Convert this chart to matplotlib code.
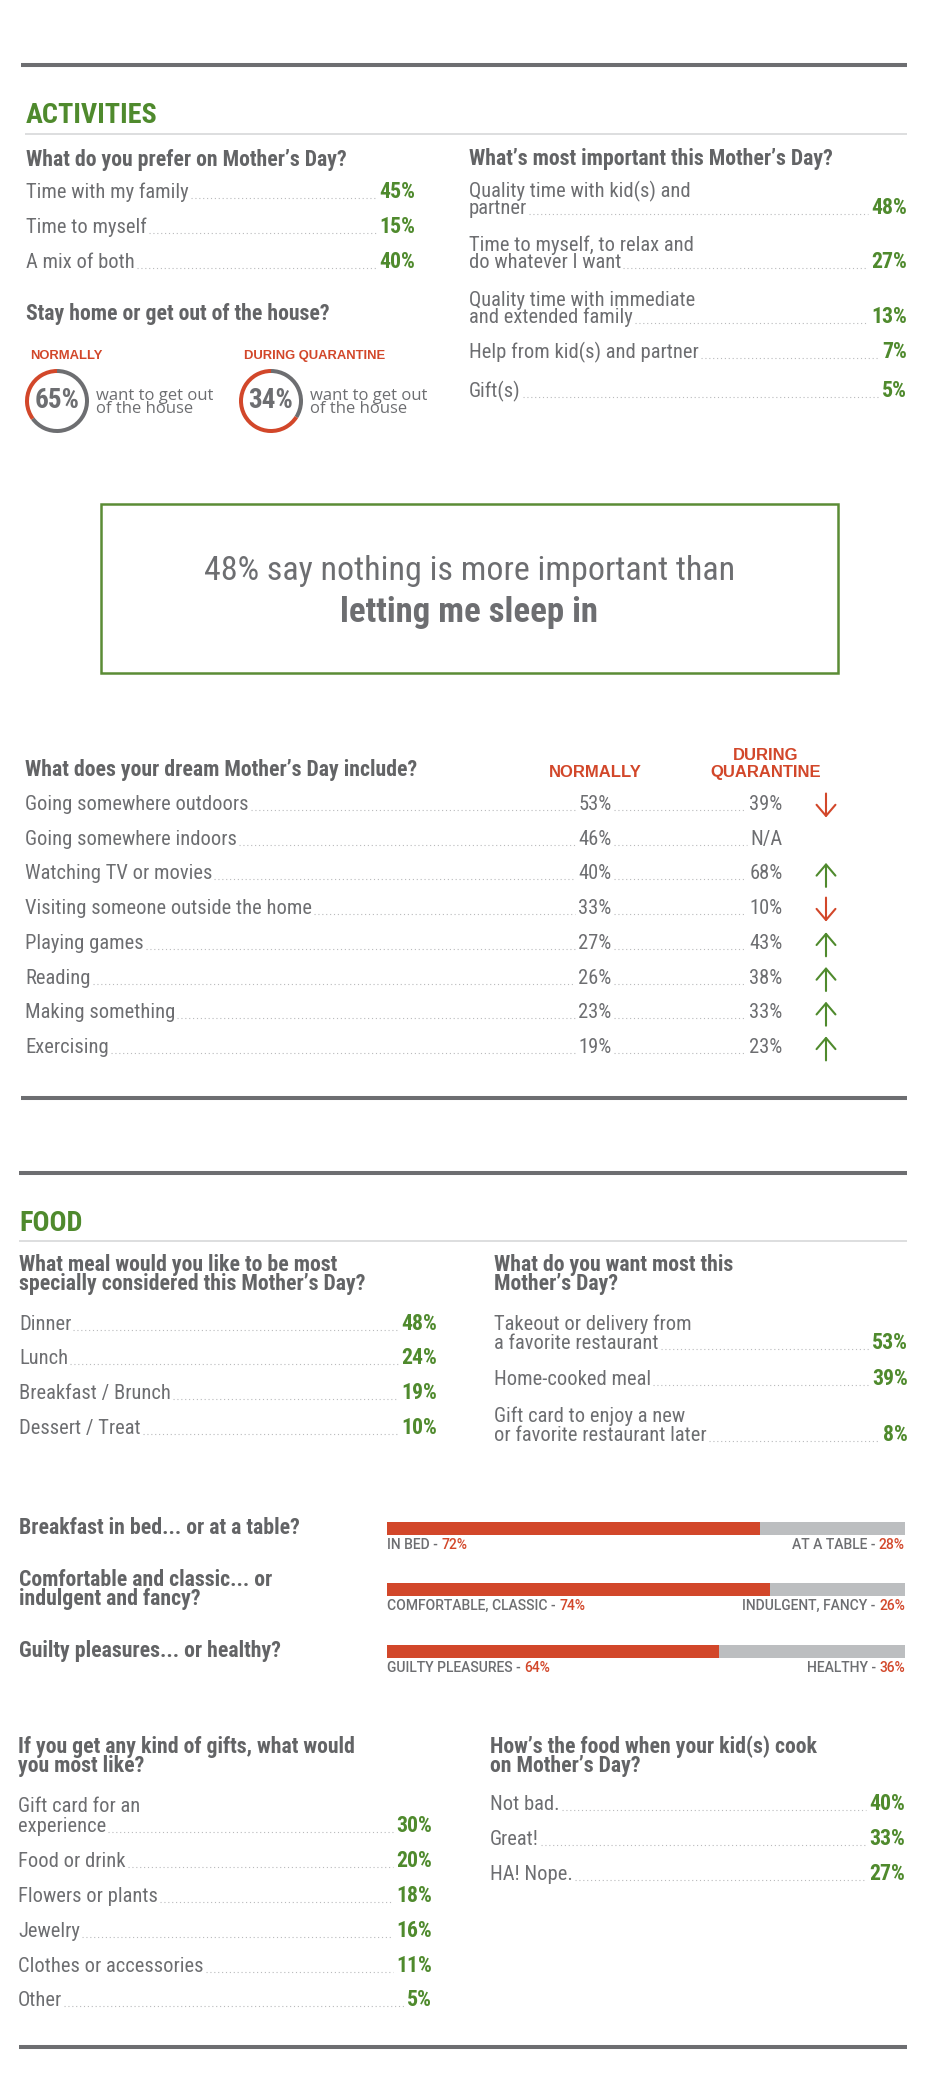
import matplotlib
matplotlib.use("Agg")
import matplotlib.pyplot as plt
from matplotlib import font_manager
from matplotlib.patches import Rectangle, Wedge

# ---- data -------------------------------------------------------------
prefer_labels = ["Time with my family", "Time to myself", "A mix of both"]
prefer_values = [45, 15, 40]

important_labels = [
    "Quality time with kid(s) and\npartner",
    "Time to myself, to relax and\ndo whatever I want",
    "Quality time with immediate\nand extended family",
    "Help from kid(s) and partner",
    "Gift(s)",
]
important_values = [48, 27, 13, 7, 5]

outside_groups = ["NORMALLY", "DURING QUARANTINE"]
outside_values = [65, 34]

dream_labels = [
    "Going somewhere outdoors", "Going somewhere indoors", "Watching TV or movies",
    "Visiting someone outside the home", "Playing games", "Reading",
    "Making something", "Exercising",
]
dream_normal = [53, 46, 40, 33, 27, 26, 23, 19]
dream_quarantine = [39, None, 68, 10, 43, 38, 33, 23]

meal_labels = ["Dinner", "Lunch", "Breakfast / Brunch", "Dessert / Treat"]
meal_values = [48, 24, 19, 10]

want_labels = [
    "Takeout or delivery from\na favorite restaurant",
    "Home-cooked meal",
    "Gift card to enjoy a new\nor favorite restaurant later",
]
want_values = [53, 39, 8]

versus_questions = [
    "Breakfast in bed... or at a table?",
    "Comfortable and classic... or\nindulgent and fancy?",
    "Guilty pleasures... or healthy?",
]
versus_left = ["IN BED", "COMFORTABLE, CLASSIC", "GUILTY PLEASURES"]
versus_right = ["AT A TABLE", "INDULGENT, FANCY", "HEALTHY"]
versus_left_values = [72, 74, 64]
versus_right_values = [28, 26, 36]

gift_labels = [
    "Gift card for an\nexperience", "Food or drink", "Flowers or plants",
    "Jewelry", "Clothes or accessories", "Other",
]
gift_values = [30, 20, 18, 16, 11, 5]

cook_labels = ["Not bad.", "Great!", "HA! Nope."]
cook_values = [40, 33, 27]

# ---- style ------------------------------------------------------------
W, H = 928, 2094
GRAY = "#6d6e71"
DARK = "#636466"
GREEN = "#4f8a2d"
RED = "#d2472a"
BAR_GRAY = "#bcbec0"
THIN = "#d3d4d6"
DOTS = "#b9babc"

_installed = {f.name for f in font_manager.fontManager.ttflist}


def pick(*names):
    for n in names:
        if n in _installed:
            return n
    return "DejaVu Sans"


NARROW = pick("Liberation Sans Narrow", "Roboto Condensed", "Liberation Sans")
WIDE = pick("Liberation Sans", "Roboto", "DejaVu Sans")
ROUND = pick("Open Sans", "Lato", "DejaVu Sans")
SMALL = pick("Roboto", "Liberation Sans", "DejaVu Sans")

fig = plt.figure(figsize=(W / 100, H / 100), dpi=100)
ax = fig.add_axes([0, 0, 1, 1])
ax.set_xlim(0, W)
ax.set_ylim(H, 0)
ax.axis("off")

leaders = []  # (left text, right text, baseline)


def txt(x, y, s, size=14.8, color=GRAY, weight="normal", family=NARROW,
        ha="left", va="baseline", **kw):
    return ax.text(x, y, s, fontsize=size, color=color, fontweight=weight,
                   family=family, ha=ha, va=va, **kw)


def rule(y, x0=21, x1=907, lw=2.9, color=GRAY):
    ax.plot([x0, x1], [y, y], color=color, lw=lw, solid_capstyle="butt")


def header(x, y, s, step=19):
    for i, line in enumerate(s.split("\n")):
        txt(x, y + i * step, line, size=15.7, color=DARK, weight="bold")


def value_list(x, right, baselines, labels, values, step=18):
    for b, lab, v in zip(baselines, labels, values):
        lines = lab.split("\n")
        first = b - step * (len(lines) - 1)
        for i, line in enumerate(lines):
            t = txt(x, first + i * step, line)
        vt = txt(right, b, f"{v}%", size=15.7, color=GREEN, weight="bold", ha="right")
        leaders.append((t, vt, b))


# ---- ACTIVITIES -------------------------------------------------------
rule(65)
txt(26, 123, "ACTIVITIES", size=20.3, color=GREEN, weight="bold")
rule(134, x0=25, lw=1.1, color=THIN)

header(26, 166, "What do you prefer on Mother\u2019s Day?")
value_list(26, 415, [198, 233, 268], prefer_labels, prefer_values)

header(26, 320, "Stay home or get out of the house?")
for cx, name, v in zip([57, 271], outside_groups, outside_values):
    txt(cx - 27, 359, name, size=9.4, color=RED, weight="bold", family=WIDE)
    ax.add_patch(Wedge((cx, 401), 32, -90, -90 + 3.6 * v, width=4, color=GRAY, lw=0))
    ax.add_patch(Wedge((cx, 401), 32, -90 + 3.6 * v, 270, width=4, color=RED, lw=0))
    txt(cx, 408, f"{v}%", size=19.5, color=GRAY, weight="bold", ha="center")
    txt(cx + 39, 400, "want to get out", size=12, family=ROUND)
    txt(cx + 39, 413, "of the house", size=12, family=ROUND)

header(469, 165, "What\u2019s most important this Mother\u2019s Day?")
value_list(469, 907, [214, 268, 323, 358, 397], important_labels,
           important_values, step=17)

# ---- quote box --------------------------------------------------------
ax.add_patch(Rectangle((101, 504), 737, 169, fill=False, edgecolor="#5b8c35", lw=1.8))
txt(469.5, 580, "48% say nothing is more important than", size=24.5, ha="center")
txt(469.5, 622, "letting me sleep in", size=25, weight="bold", ha="center")

# ---- dream day table --------------------------------------------------
header(25, 776, "What does your dream Mother\u2019s Day include?")
txt(595, 777, "NORMALLY", size=12, color=RED, weight="bold", family=WIDE, ha="center")
txt(766, 760, "DURING", size=12, color=RED, weight="bold", family=WIDE, ha="center")
txt(766, 777, "QUARANTINE", size=12, color=RED, weight="bold", family=WIDE, ha="center")

for i, (lab, n, q) in enumerate(zip(dream_labels, dream_normal, dream_quarantine)):
    b = 810 + i * 34.7
    t = txt(25, b, lab)
    nt = txt(595, b, f"{n}%", ha="center")
    qt = txt(766, b, "N/A" if q is None else f"{q}%", ha="center")
    leaders.append((t, nt, b))
    leaders.append((nt, qt, b))
    if q is not None:
        up = q > n
        c = b - 4.5
        tip, tail = (c - 12, c + 12) if up else (c + 12, c - 12)
        ax.annotate("", xy=(826, tip), xytext=(826, tail),
                    arrowprops=dict(arrowstyle="->,head_length=0.4,head_width=0.34",
                                    lw=1.5, color=GREEN if up else RED,
                                    mutation_scale=20, shrinkA=0, shrinkB=0))

rule(1098)

# ---- FOOD -------------------------------------------------------------
rule(1173, x0=19)
txt(19, 1231, "FOOD", size=20.3, color=GREEN, weight="bold")
rule(1241, x0=19, lw=1.1, color=THIN)

header(19, 1271, "What meal would you like to be most\nspecially considered this Mother\u2019s Day?")
value_list(19, 437, [1330, 1364, 1399, 1434], meal_labels, meal_values)

header(494, 1271, "What do you want most this\nMother\u2019s Day?")
value_list(494, 908, [1349, 1385, 1441], want_labels, want_values, step=19)

# split bars
bar_x0, bar_w = 387, 518
bar_centers = [1528, 1589, 1651]
q_base = [1534, 1586, 1657]
LBL = 10
for i, q in enumerate(versus_questions):
    header(19, q_base[i], q)
    lv, rv = versus_left_values[i], versus_right_values[i]
    ax.barh(bar_centers[i], bar_w * lv / 100, left=bar_x0, height=13, color=RED, lw=0)
    ax.barh(bar_centers[i], bar_w * rv / 100, left=bar_x0 + bar_w * lv / 100, height=13,
            color=BAR_GRAY, lw=0)
    lb = bar_centers[i] + 21
    lt = txt(bar_x0, lb, f"{versus_left[i]} - ", size=LBL, weight="medium", family=SMALL)
    ax.annotate(f"{lv}%", xy=(1, 0), xycoords=lt, ha="left", va="bottom",
                fontsize=LBL, fontweight="medium", color=RED, family=SMALL)
    rt = txt(bar_x0 + bar_w, lb, f"{rv}%", size=LBL, weight="medium", color=RED,
             family=SMALL, ha="right")
    ax.annotate(f"{versus_right[i]} - ", xy=(0, 0), xycoords=rt, ha="right", va="bottom",
                fontsize=LBL, fontweight="medium", color=GRAY, family=SMALL)

header(18, 1753, "If you get any kind of gifts, what would\nyou most like?")
value_list(18, 432, [1832, 1867, 1902, 1937, 1972, 2006], gift_labels, gift_values, step=20)

header(490, 1753, "How\u2019s the food when your kid(s) cook\non Mother\u2019s Day?")
value_list(490, 905, [1810, 1845, 1880], cook_labels, cook_values)

rule(2047, x0=19)

# ---- dotted leaders ---------------------------------------------------
fig.canvas.draw()
renderer = fig.canvas.get_renderer()
inv = ax.transData.inverted()
for a, b, y in leaders:
    xa = inv.transform(a.get_window_extent(renderer).get_points())[:, 0].max()
    xb = inv.transform(b.get_window_extent(renderer).get_points())[:, 0].min()
    ax.plot([xa + 2, xb - 3], [y, y], color=DOTS, lw=0.8, ls=(0, (1, 2.5)))

fig.savefig("out.png", dpi=100)
